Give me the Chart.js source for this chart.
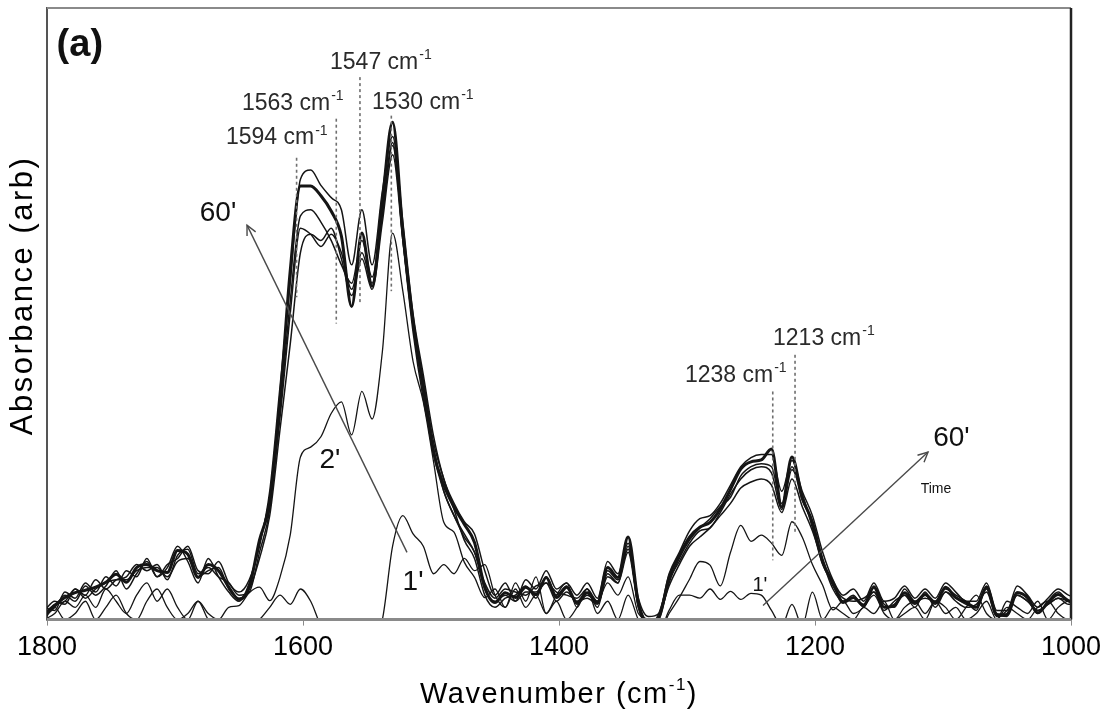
<!DOCTYPE html>
<html>
<head>
<meta charset="utf-8">
<script src="https://cdn.jsdelivr.net/npm/chart.js@4.4.1/dist/chart.umd.min.js"></script>
<style>
  html, body { margin: 0; padding: 0; background: #fff; }
  #wrap { width: 1113px; height: 718px; }
</style>
</head>
<body>
<div id="wrap"><canvas id="spectra" width="1113" height="718"></canvas></div>
<script>
// wavenumber grid (cm-1), 8 cm-1 steps
const wavenumbers = [
  1802,1794,1786,1778,1770,1762,1754,1746,1738,1730,
  1722,1714,1706,1698,1690,1682,1674,1666,1658,1650,
  1642,1634,1626,1618,1610,1602,1594,1586,1578,1570,
  1562,1554,1546,1538,1530,1522,1514,1506,1498,1490,
  1482,1474,1466,1458,1450,1442,1434,1426,1418,1410,
  1402,1394,1386,1378,1370,1362,1354,1346,1338,1330,
  1322,1314,1306,1298,1290,1282,1274,1266,1258,1250,
  1242,1234,1226,1218,1210,1202,1194,1186,1178,1170,
  1162,1154,1146,1138,1130,1122,1114,1106,1098,1090,
  1082,1074,1066,1058,1050,1042,1034,1026,1018,1010,
  1002,994
]

// absorbance (arb. units, 0-100)
const t60 = [
  0.7,2.3,3.6,4.4,4.8,5.3,6.1,7.4,6.1,8.5,
  9.0,8.0,7.7,11.3,10.7,6.9,9.0,8.0,5.3,3.3,
  5.3,13,19.2,35.6,57,70.9,70.9,69.3,66.8,62.7,
  51.2,63.2,54.5,68.5,81.3,63.5,48.8,38.1,27.4,22.0,
  18.4,15.6,12.6,5.3,2.8,4.4,3.6,5.3,4.1,6.9,
  3.6,5.3,2.8,4.4,2.8,8.5,6.9,13.5,2.8,-0.5,
  0.3,6.9,10.5,13.5,15.1,15.9,18.1,21.3,24.6,25.8,
  26.1,27.9,18.4,26.6,20,15.9,9.4,6.1,2.8,3.6,
  2.3,5.3,2,2.3,4.4,2.8,4.1,2.8,5.3,3.6,
  2.8,2,5.3,0.8,0.8,4.4,3.6,1.1,2.8,4.1,
  3.1,2.8
]
const tA = [
  2,1.5,4.5,3.5,6,4.5,7,5.5,8,7,
  10,7,9,10,12,8,7.5,9.5,6,4.5,
  6.5,12,21,38,55,72,73.5,71,69,67,
  58,67,58,70,79,65,50,40,30,23,
  19,16,14,8,4,6,3,6.5,5,8,
  5,6,4,6,3.5,9.5,7.5,12.5,3.5,0.5,
  1,7.5,11,14.5,16.5,17,19,22,25,26.5,
  27,27,21,26,21,17,11,6.5,4,5,
  3,6,3,3.5,5.5,3.5,5,3.5,6,4.5,
  3,3,6,1.5,1.5,5.5,4,2,3.5,5,
  4,3.5
]
const tB = [
  1.5,3,2.5,5,4,6.5,5,6.5,7,9,
  8,9,6.5,10.5,11.5,7.5,8.5,7,6,4,
  4.5,11,18,34,52,66,67,65,62,58,
  55,62,56,67,78,62,47,36,28,21,
  17,14,11,6,3.5,5,4.5,4,5.5,6,
  4.5,4,3.5,5,2,7.5,6,12,2,-1,
  0,6,10,13,15,16.5,18.5,20,23.5,25,
  25.5,25,19,25,19.5,16,10,5.5,3.5,3,
  3.5,4.5,1.5,3,4,2,4.5,2,4.5,3,
  2,2.5,4.5,0.5,1.5,4,3,1.5,2.5,3.5,
  2.5,3
]
const tC = [
  0.5,2,4,3,5.5,4,5.5,8,5,7.5,
  9.5,7,8.5,12,9.5,6,10,7,4.5,3,
  6,12.5,20,33,50,64,63,61,63,60,
  54,60,55,66,77.5,63,49,39,29,23,
  18,13,10,4,2,3.5,4,5.5,3.5,7,
  4,5.5,2.5,4,3,8,6.5,11.5,2.5,-1,
  1,6.5,9.5,12.5,14.5,15,17.5,20.5,23,24.5,
  25,24,18,24.5,20.5,15,9,6,3,4,
  2,5.5,2.5,2,5,3,3.5,3,5,4,
  3,1.5,5.5,1,0.5,4.5,3.5,1,3,4.5,
  3,2.5
]
const tD = [
  1,2.5,3,5,3.5,5,6,6.5,6.5,8,
  8.5,8.5,7,9.5,10,7,8,8.5,5,3.5,
  5,10,17,31,45,60,63,62,64,59,
  53,59,54,65,76,62,48,37,27,21,
  17,13.5,11,5,3,4,3,4.5,4.5,6,
  3,4.5,3,3.5,2.5,7,6,11,2,-1,
  0.5,5.5,9,12,13.5,15,17,19,21.5,22.5,
  23,22,17.5,23,18.5,14.5,9.5,5,3,3.5,
  2.5,4.5,2,2.5,4,2.5,4,2.5,4.5,3.5,
  2.5,2,5,0.5,1,4,3,1.5,2.5,3.5,
  3,2
]
const t2 = [
  0,1,3,2,4,2,5,3,1,4,
  6,3,5,2,0,3,1,0,2,2.3,
  4.4,5.3,3.1,6.9,13.8,26.6,28.2,29.9,33.7,35.6,
  30.2,37.3,32.8,43.8,63.2,53.7,42.2,35.6,25.8,15.9,
  14.3,9.4,6.9,3.6,5,2,6,3,7,1,
  4,6,2,5,3,6,4,7,1,0,
  -2,1,3.6,6.6,9.5,8.9,5.5,11,15.4,12.8,
  13.8,12.5,10.5,16,13.5,9,5.6,1.6,3,1,
  2,4,1,0,2,3,1,3,2,0,
  2,4,1,0,3,2,1,3,0,2,
  3,1
]
const t1 = [
  0,2,0,1,3,0,2,4,1,0,
  3,5,2,0,1,3,0,-1,0,0,
  -1,0,2,4,2.5,5,3,-1,-3,-3,
  -3,-3,-3,0,12,17,14,12,7.5,9,
  7.5,10,8,9,4,2,5,2,4,1,
  3,0,2,5,1,3,0,4,0,-2,
  -2,1.5,4,4,3.5,5,3.3,4.6,3.3,4.3,
  4,1.5,-1,2.5,-1,4.5,0,2,1,0,
  2,1,3,0,1,2,0,3,1,2,
  0,1,3,0,2,1,0,2,3,1,
  0,2
]
const xTicks = [1800, 1600, 1400, 1200, 1000]
const peakLabels = ['1594', '1563', '1547', '1530', '1238', '1213']

const FONT = '"Liberation Sans", Arial, sans-serif'

// dashed peak markers and their labels (wavenumber / absorbance units)
const markers = [
  { w: 1605, top: 75.5, bottom: 52.7, lx: 1660.2, ly: 78.8 },
  { w: 1574, top: 81.9, bottom: 48.4, lx: 1647.7, ly: 84.4 },
  { w: 1555.5, top: 88.7, bottom: 51.6, lx: 1578.9, ly: 91.1 },
  { w: 1531, top: 82.4, bottom: 53.7, lx: 1546.1, ly: 84.6 },
  { w: 1233, top: 37.3, bottom: 9.7, lx: 1301.6, ly: 39.9 },
  { w: 1215.6, top: 43.3, bottom: 14.3, lx: 1232.8, ly: 46 }
]
const arrows = [
  { x0: 1518.75, y0: 11, x1: 1643.75, y1: 64.5 },
  { x0: 1240.6, y0: 2.3, x1: 1111.7, y1: 27.4 }
]
const notes = [
  { t: '(a)', w: 1792.5, v: 93.8, font: 'bold 38px ' + FONT, align: 'left' },
  { t: "60'", w: 1666.4, v: 66.5, font: '28px ' + FONT },
  { t: "2'", w: 1578.9, v: 26.1, font: '28px ' + FONT },
  { t: "1'", w: 1514, v: 6.1, font: '28px ' + FONT },
  { t: "60'", w: 1093.4, v: 29.7, font: '28px ' + FONT },
  { t: 'Time', w: 1105.5, v: 21.3, font: '14px ' + FONT },
  { t: "1'", w: 1243, v: 5.6, font: '20px ' + FONT }
]

const series = [
  { data: t2, width: 1.3 },
  { data: t1, width: 1.3 },
  { data: tD, width: 1.5 },
  { data: tC, width: 1.5 },
  { data: tB, width: 1.5 },
  { data: tA, width: 1.5 },
  { data: t60, width: 3 }
]

const decor = {
  id: 'decor',
  afterDatasetsDraw(chart) {
    const { ctx, chartArea: a, scales: { x, y } } = chart
    ctx.save()
    // frame
    ctx.lineWidth = 2
    ctx.strokeStyle = '#8a8a8a'
    ctx.beginPath(); ctx.moveTo(a.left, a.top); ctx.lineTo(a.right, a.top); ctx.stroke()
    ctx.strokeStyle = '#222'
    ctx.lineWidth = 2.5
    ctx.beginPath(); ctx.moveTo(a.right, a.top); ctx.lineTo(a.right, a.bottom); ctx.stroke()
    ctx.strokeStyle = '#8a8a8a'
    ctx.lineWidth = 3
    ctx.beginPath(); ctx.moveTo(a.left, a.bottom); ctx.lineTo(a.right, a.bottom); ctx.stroke()

    // dashed markers
    ctx.setLineDash([3, 3])
    ctx.strokeStyle = '#6f6f6f'
    ctx.lineWidth = 1.6
    markers.forEach(m => {
      const px = x.getPixelForValue(m.w)
      ctx.beginPath()
      ctx.moveTo(px, y.getPixelForValue(m.top))
      ctx.lineTo(px, y.getPixelForValue(m.bottom))
      ctx.stroke()
    })
    ctx.setLineDash([])

    // peak labels "xxxx cm-1"
    ctx.fillStyle = '#2a2a2a'
    ctx.textBaseline = 'middle'
    ctx.textAlign = 'left'
    markers.forEach((m, i) => {
      const px = x.getPixelForValue(m.lx)
      const py = y.getPixelForValue(m.ly)
      ctx.font = '23px ' + FONT
      const s = peakLabels[i] + ' cm'
      ctx.fillText(s, px, py)
      const w = ctx.measureText(s).width
      ctx.font = '14px ' + FONT
      ctx.fillText('-1', px + w + 1, py - 7)
    })

    // arrows
    ctx.strokeStyle = '#4a4a4a'
    ctx.lineWidth = 1.4
    arrows.forEach(ar => {
      const x0 = x.getPixelForValue(ar.x0), y0 = y.getPixelForValue(ar.y0)
      const x1 = x.getPixelForValue(ar.x1), y1 = y.getPixelForValue(ar.y1)
      const ang = Math.atan2(y1 - y0, x1 - x0)
      ctx.beginPath(); ctx.moveTo(x0, y0); ctx.lineTo(x1, y1); ctx.stroke()
      ctx.beginPath()
      ctx.moveTo(x1 - 11 * Math.cos(ang - 0.45), y1 - 11 * Math.sin(ang - 0.45))
      ctx.lineTo(x1, y1)
      ctx.lineTo(x1 - 11 * Math.cos(ang + 0.45), y1 - 11 * Math.sin(ang + 0.45))
      ctx.stroke()
    })

    // text notes
    ctx.fillStyle = '#111'
    notes.forEach(n => {
      ctx.font = n.font
      ctx.textAlign = n.align || 'center'
      ctx.fillText(n.t, x.getPixelForValue(n.w), y.getPixelForValue(n.v))
    })

    // axis titles (stretched look of the original)
    ctx.fillStyle = '#000'
    ctx.letterSpacing = '1.5px'
    ctx.font = '29px ' + FONT
    ctx.textAlign = 'left'
    const xt1 = 'Wavenumber (cm', xt2 = ')'
    const w1 = ctx.measureText(xt1).width
    ctx.font = '17px ' + FONT
    const ws = ctx.measureText('-1').width
    ctx.font = '29px ' + FONT
    const w2 = ctx.measureText(xt2).width
    let tx = (a.left + a.right) / 2 - (w1 + ws + w2) / 2
    const ty = a.bottom + 75
    ctx.fillText(xt1, tx, ty)
    ctx.font = '17px ' + FONT
    ctx.fillText('-1', tx + w1, ty - 9)
    ctx.font = '29px ' + FONT
    ctx.fillText(xt2, tx + w1 + ws, ty)

    ctx.save()
    ctx.letterSpacing = '2.5px'
    ctx.font = '31px ' + FONT
    ctx.textAlign = 'center'
    ctx.translate(23, a.top + 0.47 * (a.bottom - a.top))
    ctx.rotate(-Math.PI / 2)
    ctx.fillText('Absorbance (arb)', 0, 0)
    ctx.restore()
    ctx.restore()
  }
}

const spectra = new Chart(
  document.getElementById('spectra'),
  {
    type: 'line',
    data: {
      datasets: series.map(s => ({
        data: s.data.map((v, i) => ({ x: wavenumbers[i], y: v })),
        borderColor: '#151515',
        borderWidth: s.width,
        pointRadius: 0,
        fill: false,
        cubicInterpolationMode: 'monotone'
      }))
    },
    options: {
      responsive: false,
      animation: false,
      devicePixelRatio: 1,
      layout: { padding: { left: 39, right: 42, top: 8, bottom: 48 } },
      plugins: { legend: { display: false }, tooltip: { enabled: false } },
      scales: {
        x: {
          type: 'linear',
          reverse: true,
          min: 1000,
          max: 1800,
          afterBuildTicks: (axis) => { axis.ticks = xTicks.map(v => ({ value: v })) },
          ticks: {
            color: '#000',
            font: { family: FONT, size: 27 },
            padding: 6,
            maxRotation: 0,
            callback: (v) => String(v)
          },
          grid: { display: true, drawOnChartArea: false, drawTicks: true, tickLength: 6, color: '#8a8a8a' },
          border: { display: true, color: '#8a8a8a', width: 3 }
        },
        y: {
          min: 0,
          max: 100,
          ticks: { display: false },
          grid: { display: false },
          border: { display: true, color: '#555', width: 2 }
        }
      }
    },
    plugins: [decor]
  }
)
</script>
</body>
</html>
